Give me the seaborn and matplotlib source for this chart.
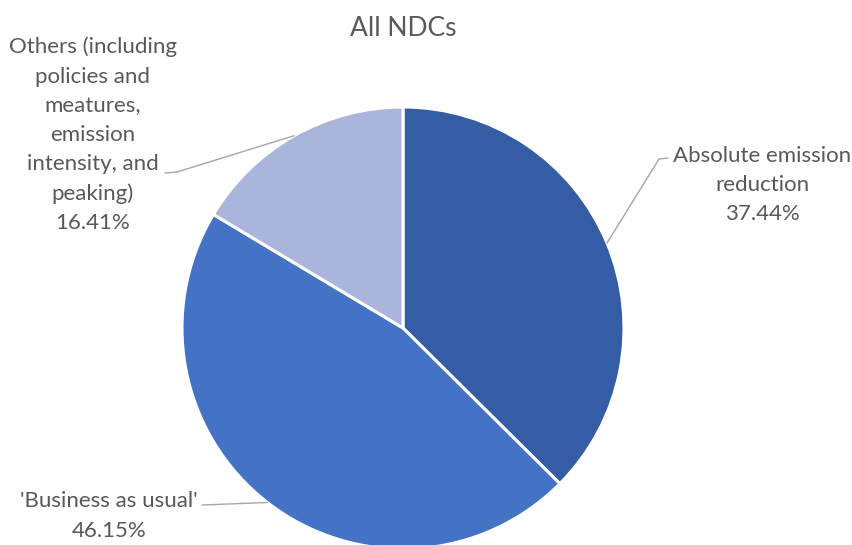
import numpy as np
import matplotlib
matplotlib.use("Agg")
import matplotlib.pyplot as plt
from matplotlib.lines import Line2D
import seaborn as sns

# ---- data ----
categories = ["Absolute emission\nreduction", "'Business as usual'",
              "Others (including\npolicies and\nmeatures,\nemission\nintensity, and\npeaking)"]
shares = [37.44, 46.15, 16.41]
colors = ["#345DA6", "#4472C4", "#A9B5DB"]
title = "All NDCs"

sns.set_theme(style="white")
plt.rcParams['font.family'] = ['Lato', 'DejaVu Sans']

W, H = 853, 545
fig = plt.figure(figsize=(W / 100, H / 100), dpi=100)
fig.patch.set_facecolor("white")

# pie axes: centre (403, 328) px, radius 221 px
cx, cy, r = 403, 328, 221
ax = fig.add_axes([(cx - r) / W, 1 - (cy + r) / H, 2 * r / W, 2 * r / H])
wedges, _ = ax.pie(shares, colors=colors, startangle=90, counterclock=False,
                   wedgeprops=dict(edgecolor="white", linewidth=2.2))
ax.set_xlim(-1, 1)
ax.set_ylim(-1, 1)
ax.set_aspect("equal")
ax.axis("off")

txt_color = "#595959"
line_color = "#A6A6A6"

fig.text(403 / W, 1 - 29 / H, title, ha="center", va="center",
         fontsize=19, color=txt_color)

def fx(x):
    return x / W

def fy(y):
    return 1 - y / H

# label layout (pixel positions of text centre and leader elbow)
label_pos = [(762, 185), (109, 516), (93, 135)]
elbow_pts = [(659, 159), (202, 505), (177, 172)]
short_ends = [(668, 158), (202, 505), (165, 173)]

for i, (w, cat, val) in enumerate(zip(wedges, categories, shares)):
    mid = np.deg2rad((w.theta1 + w.theta2) / 2)
    px, py = np.cos(mid), np.sin(mid)
    ex, ey = elbow_pts[i]
    ax.annotate("", xy=(px, py), xycoords="data",
                xytext=(fx(ex), fy(ey)), textcoords="figure fraction",
                arrowprops=dict(arrowstyle="-", color=line_color, lw=1.0,
                                shrinkA=0, shrinkB=0))
    sx, sy = short_ends[i]
    if (sx, sy) != (ex, ey):
        fig.add_artist(Line2D([fx(ex), fx(sx)], [fy(ey), fy(sy)],
                              color=line_color, lw=1.0))
    lx, ly = label_pos[i]
    fig.text(fx(lx), fy(ly), f"{cat}\n{val:.2f}%", ha="center", va="center",
             fontsize=16, color=txt_color, linespacing=1.57)

fig.savefig("out.png", dpi=100, facecolor="white")
